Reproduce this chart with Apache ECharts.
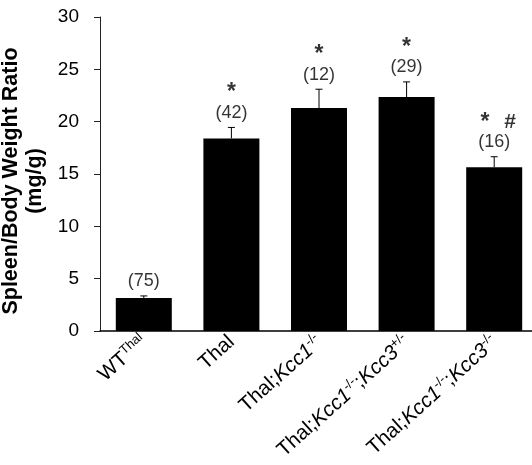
<!DOCTYPE html>
<html>
<head>
<meta charset="utf-8">
<script src="https://cdn.jsdelivr.net/npm/echarts@6/dist/echarts.min.js"></script>
<style>
html,body{margin:0;padding:0;background:#fff;}
#chart{width:532px;height:465px;}
</style>
</head>
<body>
<div id="chart"></div>
<script>
// ---- data ----
const categories = ['WT Thal', 'Thal', 'Thal;Kcc1-/-', 'Thal;Kcc1-/-;Kcc3+/-', 'Thal;Kcc1-/-;Kcc3-/-'];
const tickLabels = [
  '{n|WT}{s|Thal}',
  '{n|Thal}',
  '{n|Thal;}{i|Kcc1}{s|-/-}',
  '{n|Thal;}{i|Kcc1}{s|-/-}{n|;}{i|Kcc3}{s|+/-}',
  '{n|Thal;}{i|Kcc1}{s|-/-}{n|;}{i|Kcc3}{s|-/-}'
];
const means = [3.15, 18.4, 21.3, 22.35, 15.65];
const errors = [0.2, 1.05, 1.8, 1.45, 1.0];
const counts = ['(75)', '(42)', '(12)', '(29)', '(16)'];
const marks = ['', '*', '*', '*', '* #'];
const yTicks = { min: 0, max: 30, interval: 5 };

const FONT = 'Liberation Sans, Arial, Helvetica, sans-serif';

const chart = echarts.init(document.getElementById('chart'), null, { renderer: 'canvas' });

function markLabel(i) {
  const m = marks[i];
  let top = '';
  if (m === '* #') top = '{sp|*}{h|   }{hb|#}\n';
  else if (m === '*') top = '{s|*}\n';
  return top + '{n|' + counts[i] + '}';
}

const option = {
  backgroundColor: '#fff',
  animation: false,
  textStyle: { fontFamily: FONT },
  grid: { left: 100, right: -6, top: 17, bottom: 134, containLabel: false, outerBoundsMode: 'none' },
  xAxis: {
    type: 'category',
    data: categories,
    axisLine: { lineStyle: { color: '#000', width: 1.5 } },
    axisTick: { show: false },
    axisLabel: {
      interval: 0,
      rotate: 42,
      margin: -7,
      verticalAlign: 'top',
      padding: [0, 10, 0, 0],
      color: '#000',
      formatter: function (v, idx) { return tickLabels[idx]; },
      rich: {
        n: { fontSize: 20.5, fontFamily: FONT, color: '#000', lineHeight: 22, verticalAlign: 'bottom' },
        i: { fontSize: 20.5, fontFamily: FONT, fontStyle: 'italic', color: '#000', lineHeight: 22, verticalAlign: 'bottom' },
        s: { fontSize: 13, fontFamily: FONT, color: '#000', verticalAlign: 'top', lineHeight: 12 }
      }
    }
  },
  yAxis: {
    type: 'value',
    min: yTicks.min,
    max: yTicks.max,
    interval: yTicks.interval,
    name: 'Spleen/Body Weight Ratio\n(mg/g)',
    nameLocation: 'middle',
    nameGap: 44,
    nameTextStyle: { fontSize: 21.5, fontWeight: 'bold', color: '#000', fontFamily: FONT, lineHeight: 24, padding: [0, 14, 0, 0] },
    axisLine: { show: true, lineStyle: { color: '#222', width: 1 } },
    axisTick: { show: true, length: 6, lineStyle: { color: '#222' } },
    axisLabel: { fontSize: 19, color: '#000', margin: 21, fontFamily: FONT },
    splitLine: { show: false }
  },
  series: [
    {
      type: 'bar',
      data: means,
      barWidth: 56,
      itemStyle: { color: '#000' },
      z: 2
    },
    {
      type: 'custom',
      data: means.map((m, i) => [i, m, m + errors[i]]),
      z: 3,
      renderItem: function (params, api) {
        const x = api.value(0);
        const p0 = api.coord([x, api.value(1)]);
        const p1 = api.coord([x, api.value(2)]);
        const hw = 3.5;
        return {
          type: 'group',
          children: [
            { type: 'line', shape: { x1: p0[0], y1: p0[1], x2: p1[0], y2: p1[1] }, style: { stroke: '#000', lineWidth: 1 } },
            { type: 'line', shape: { x1: p1[0] - hw, y1: p1[1], x2: p1[0] + hw, y2: p1[1] }, style: { stroke: '#000', lineWidth: 1 } }
          ]
        };
      }
    },
    {
      type: 'scatter',
      data: means.map((m, i) => [i, m + errors[i]]),
      symbolSize: 0,
      z: 4,
      label: {
        show: true,
        position: 'top',
        distance: 5,
        formatter: function (p) { return markLabel(p.dataIndex); },
        rich: {
          n: { fontSize: 18, fontFamily: FONT, color: '#000', lineHeight: 19 },
          s: { fontSize: 23, fontWeight: 'bold', fontFamily: FONT, color: '#000', lineHeight: 21 },
          sp: { fontSize: 23, fontWeight: 'bold', fontFamily: FONT, color: '#000', lineHeight: 21, padding: [0, 0, 0, 8] },
          h: { fontSize: 18, fontFamily: FONT, color: '#000', lineHeight: 21 },
          hb: { fontSize: 21, fontWeight: 'bold', fontFamily: FONT, color: '#000', lineHeight: 21 }
        }
      }
    }
  ]
};

chart.setOption(option);
</script>
</body>
</html>
